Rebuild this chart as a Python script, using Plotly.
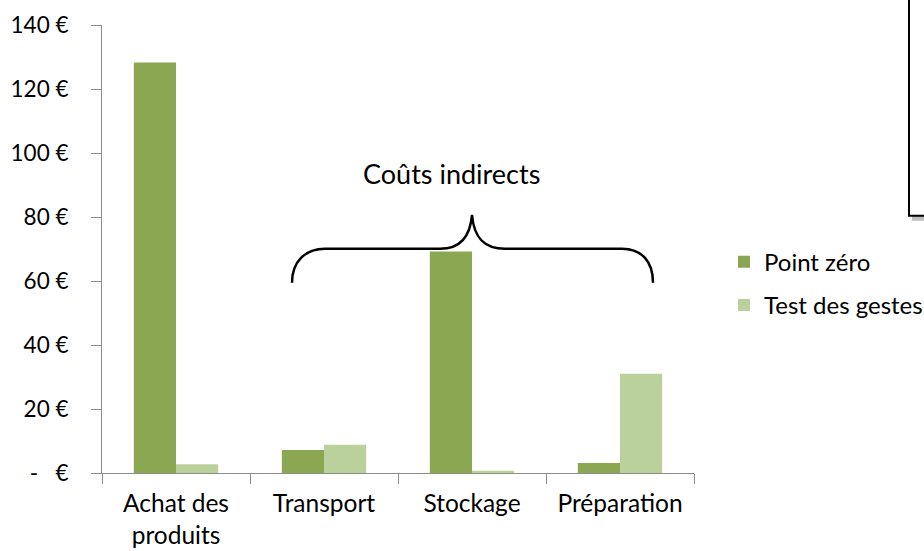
import plotly.graph_objects as go

categories = ["Achat des<br>produits", "Transport", "Stockage", "Préparation"]
point_zero = [128.3, 7.2, 69.2, 3.1]
test_gestes = [2.7, 8.8, 0.7, 31.0]
series_names = ["Point zéro", "Test des gestes"]
colors = ["#8BA752", "#BBD19B"]
y_tickvals = [0, 20, 40, 60, 80, 100, 120, 140]
y_ticktext = ["-   €", "20 €", "40 €", "60 €", "80 €", "100 €", "120 €", "140 €"]

FONT = "Lato"
W, H = 924, 551
# plot area in page pixels
PX0, PX1, PY0, PY1 = 102, 694, 25, 473.5
L, T = PX0, PY0
R = W - PX1
B = H - PY1
pw = PX1 - PX0
ph = PY1 - PY0

def px_x(X):
    return (X - PX0) / pw

def px_y(Y):
    return (PY1 - Y) / ph

fig = go.Figure()
for name, vals, col in zip(series_names, [point_zero, test_gestes], colors):
    fig.add_trace(go.Bar(x=categories, y=vals, name=name, marker_color=col,
                         marker_line_width=0, legendgroup=name))

# curly brace (pixel design points -> paper coords)
pts = [(292, 283), (292, 262), (305, 249), (325, 249), (440, 249),
       (458, 249), (470, 240), (472, 215), (474, 240), (486, 249), (505, 249),
       (622, 249), (642, 249), (653, 262), (653, 283)]
p = [(px_x(a), px_y(b)) for a, b in pts]
path = (f"M {p[0][0]},{p[0][1]} C {p[1][0]},{p[1][1]} {p[2][0]},{p[2][1]} {p[3][0]},{p[3][1]} "
        f"L {p[4][0]},{p[4][1]} C {p[5][0]},{p[5][1]} {p[6][0]},{p[6][1]} {p[7][0]},{p[7][1]} "
        f"C {p[8][0]},{p[8][1]} {p[9][0]},{p[9][1]} {p[10][0]},{p[10][1]} "
        f"L {p[11][0]},{p[11][1]} C {p[12][0]},{p[12][1]} {p[13][0]},{p[13][1]} {p[14][0]},{p[14][1]}")

shapes = [
    dict(type="path", path=path, xref="paper", yref="paper",
         line=dict(color="black", width=2.5)),
    # shadow of box
    dict(type="rect", xref="paper", yref="paper",
         x0=px_x(912), x1=px_x(960), y0=px_y(221), y1=px_y(-20),
         fillcolor="rgba(110,110,110,0.45)", line=dict(width=0)),
    dict(type="rect", xref="paper", yref="paper",
         x0=px_x(909), x1=px_x(960), y0=px_y(216), y1=px_y(-20),
         fillcolor="white", line=dict(color="black", width=2)),
]

fig.update_layout(
    width=W, height=H,
    margin=dict(l=L, r=R, t=T, b=B, autoexpand=False),
    paper_bgcolor="white", plot_bgcolor="white",
    barmode="group", bargap=0.43, bargroupgap=0,
    font=dict(family=FONT, size=22, color="black"),
    showlegend=True,
    legend=dict(x=px_x(724), xanchor="left", y=px_y(240), yanchor="top",
                font=dict(family=FONT, size=24), traceorder="grouped",
                tracegroupgap=9, itemwidth=30, bgcolor="rgba(0,0,0,0)"),
    shapes=shapes,
    annotations=[dict(text="Coûts indirects", xref="paper", yref="paper",
                      x=px_x(451.5), y=px_y(174), xanchor="center", yanchor="middle",
                      showarrow=False,
                      font=dict(family=FONT, size=27, color="black"))],
)
fig.update_yaxes(range=[0, 140], tickvals=y_tickvals, ticktext=y_ticktext,
                 showgrid=False, zeroline=False, showline=True, linecolor="#8C8C8C",
                 linewidth=1, ticks="outside", ticklen=10, tickcolor="#8C8C8C",
                 ticklabelstandoff=18, tickfont=dict(family=FONT, size=22.5))
fig.update_xaxes(showgrid=False, showline=True, linecolor="#8C8C8C", linewidth=1,
                 ticks="outside", ticklen=10, tickcolor="#8C8C8C", tickson="boundaries",
                 ticklabelstandoff=9, tickfont=dict(family=FONT, size=24.5))

fig.write_html("out.html", config={"displayModeBar": False},
               post_script="document.body.style.margin='0px';document.body.style.overflow='hidden';")
